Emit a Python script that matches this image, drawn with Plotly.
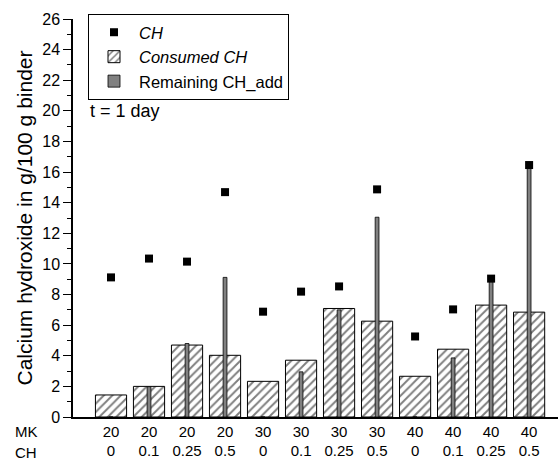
import plotly.graph_objects as go

mk = ["20", "20", "20", "20", "30", "30", "30", "30", "40", "40", "40", "40"]
ch_ratio = ["0", "0.1", "0.25", "0.5", "0", "0.1", "0.25", "0.5", "0", "0.1", "0.25", "0.5"]
ch_values = [9.12, 10.35, 10.15, 14.69, 6.88, 8.19, 8.53, 14.87, 5.26, 7.03, 9.04, 16.46]
consumed_ch = [1.44, 2.0, 4.7, 4.03, 2.33, 3.71, 7.09, 6.26, 2.66, 4.43, 7.31, 6.85]
remaining_ch_add = [0, 1.98, 4.8, 9.12, 0, 2.95, 7.0, 13.05, 0, 3.86, 9.04, 16.5]

x = list(range(len(mk)))
ticktext = [f"{a}<br>{b}" for a, b in zip(mk, ch_ratio)]

FONT = "Liberation Sans, Arial, sans-serif"
L, R, T, B = 73, 2, 19, 47
W, H = 560, 464

fig = go.Figure()
fig.add_trace(go.Bar(
    x=x, y=consumed_ch, width=0.82, name="<i>Consumed CH</i>", legendrank=2,
    marker=dict(color="white", line=dict(color="black", width=1),
                pattern=dict(shape="/", fgcolor="black", bgcolor="white", size=6, solidity=0.32)),
))
fig.add_trace(go.Bar(
    x=x, y=remaining_ch_add, width=0.1, name="Remaining CH_add", legendrank=3,
    marker=dict(color="#808080", line=dict(color="black", width=0.8)),
))
fig.add_trace(go.Scatter(
    x=x, y=ch_values, mode="markers", name="<i>CH</i>", legendrank=1,
    marker=dict(symbol="square", size=8, color="black"),
))

plot_w = W - L - R
plot_h = H - T - B

fig.update_layout(
    width=W, height=H,
    margin=dict(l=L, r=R, t=T, b=B),
    barmode="overlay",
    plot_bgcolor="white", paper_bgcolor="white",
    font=dict(family=FONT, size=15, color="black"),
    showlegend=True,
    legend=dict(
        x=(88 - L) / plot_w, y=(H - B - 14) / plot_h, xanchor="left", yanchor="top",
        bordercolor="black", borderwidth=1, bgcolor="white",
        font=dict(size=16.5), traceorder="normal",
        itemwidth=40, tracegroupgap=0,
    ),
    xaxis=dict(
        range=[-1, 11.76], tickvals=x, ticktext=ticktext,
        showline=True, linecolor="black", linewidth=1.5,
        ticks="", showgrid=False, zeroline=False,
        tickfont=dict(size=15),
    ),
    yaxis=dict(
        range=[0, 26], dtick=2, showline=True, linecolor="black", linewidth=1.5,
        ticks="outside", ticklen=8, tickwidth=1.2, tickcolor="black",
        minor=dict(dtick=1, ticks="outside", ticklen=4, tickwidth=1, tickcolor="black"),
        showgrid=False, zeroline=False,
        title=dict(text="Calcium hydroxide in g/100 g binder", font=dict(size=21), standoff=4),
        tickfont=dict(size=16),
    ),
    annotations=[
        dict(text="t = 1 day", x=(88 - L) / plot_w, y=(H - B - 111) / plot_h, xref="paper", yref="paper",
             showarrow=False, xanchor="left", yanchor="middle", font=dict(size=18)),
        dict(text="MK", x=(13 - L) / plot_w, y=(H - B - 431) / plot_h, xref="paper", yref="paper",
             showarrow=False, xanchor="left", yanchor="middle", font=dict(size=15)),
        dict(text="CH", x=(13 - L) / plot_w, y=(H - B - 452) / plot_h, xref="paper", yref="paper",
             showarrow=False, xanchor="left", yanchor="middle", font=dict(size=15)),
    ],
)

fig.write_html("out.html")
